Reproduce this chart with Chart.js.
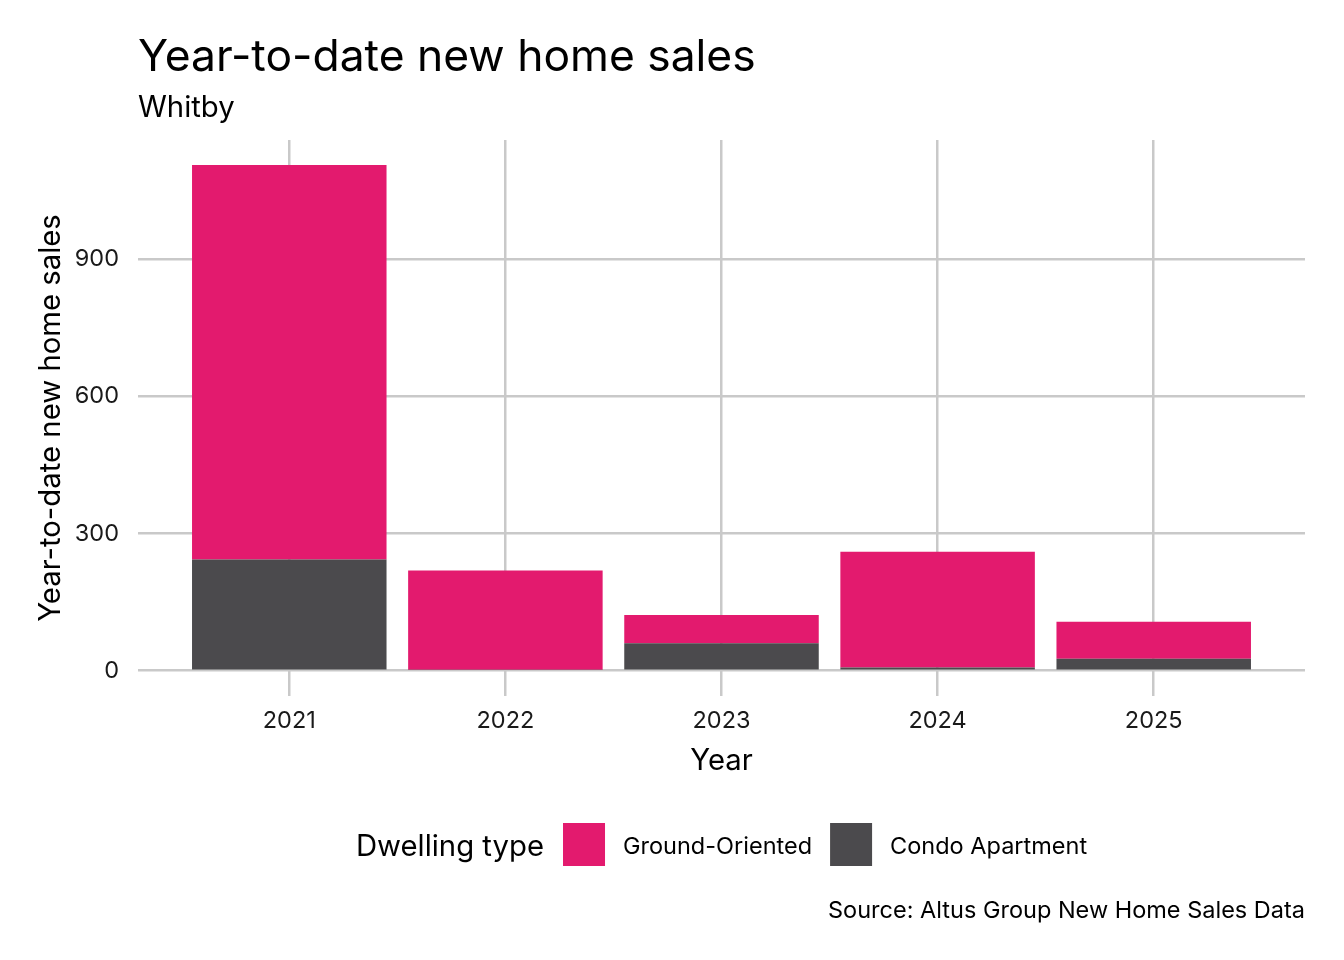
<!DOCTYPE html>
<html>
<head>
<meta charset="utf-8">
<script src="https://cdn.jsdelivr.net/npm/chart.js@4.4.1/dist/chart.umd.min.js"></script>
<style>
  html, body { margin: 0; padding: 0; background: #ffffff; }
  #wrap { width: 1344px; height: 960px; position: relative; }
</style>
</head>
<body>
<div id="wrap"><canvas id="c" width="1344" height="960"></canvas></div>
<script>
// ---- Data ----
const years = ["2021", "2022", "2023", "2024", "2025"];
const condoApartment = [243, 2, 60, 7, 26];
const groundOriented = [863, 217, 62, 253, 81];
const yTicks = [0, 300, 600, 900];
const seriesNames = ["Condo Apartment", "Ground-Oriented"];
const seriesColors = ["#4B4A4D", "#E31A6E"];

const titleText = "Year-to-date new home sales";
const subtitleText = "Whitby";
const legendTitle = "Dwelling type";
const captionText = "Source: Altus Group New Home Sales Data";
const FONT = "Inter, 'Noto Sans', sans-serif";

const toPoints = arr => arr.map((v, i) => ({ x: i + 1, y: v }));

const annotationsPlugin = {
  id: 'annotations',
  afterDraw(chart) {
    const ctx = chart.ctx;
    const area = chart.chartArea;
    ctx.save();
    ctx.fillStyle = '#000000';
    ctx.textBaseline = 'alphabetic';
    // Title & subtitle
    ctx.textAlign = 'left';
    ctx.font = `44.4px ${FONT}`;
    ctx.fillText(titleText, area.left, 71);
    ctx.font = `29.3px ${FONT}`;
    ctx.fillText(subtitleText, area.left, 117);

    // Legend (reverse order: Ground-Oriented first)
    const order = [1, 0];
    const boxW = 42, boxH = 43, gapTitle = 19, gapBoxText = 18, gapItem = 18;
    ctx.font = `29.3px ${FONT}`;
    const tW = ctx.measureText(legendTitle).width;
    ctx.font = `23.5px ${FONT}`;
    const itemW = order.map(i => ctx.measureText(seriesNames[i]).width);
    let total = tW + gapTitle;
    itemW.forEach((w, k) => { total += boxW + gapBoxText + w + (k < itemW.length - 1 ? gapItem : 0); });
    let x = (area.left + area.right) / 2 - total / 2;
    const cy = 844.5;
    ctx.font = `29.3px ${FONT}`;
    ctx.fillStyle = '#000000';
    ctx.fillText(legendTitle, x, 855.5);
    x += tW + gapTitle;
    order.forEach((i, k) => {
      ctx.fillStyle = seriesColors[i];
      ctx.fillRect(x, cy - boxH / 2, boxW, boxH);
      x += boxW + gapBoxText;
      ctx.fillStyle = '#000000';
      ctx.font = `23.5px ${FONT}`;
      ctx.fillText(seriesNames[i], x, 853.5);
      x += itemW[k] + gapItem;
    });

    // Caption
    ctx.textAlign = 'right';
    ctx.font = `23.5px ${FONT}`;
    ctx.fillText(captionText, area.right, 917.5);
    ctx.restore();
  }
};

new Chart(document.getElementById('c'), {
  type: 'bar',
  data: {
    datasets: [
      { label: seriesNames[0], data: toPoints(condoApartment), backgroundColor: seriesColors[0], borderWidth: 0 },
      { label: seriesNames[1], data: toPoints(groundOriented), backgroundColor: seriesColors[1], borderWidth: 0 }
    ]
  },
  options: {
    responsive: false,
    animation: false,
    events: [],
    layout: { padding: { left: 0, top: 140, right: 39, bottom: 164 } },
    datasets: { bar: { barPercentage: 0.9, categoryPercentage: 1.0 } },
    plugins: { legend: { display: false }, tooltip: { enabled: false }, title: { display: false } },
    scales: {
      x: {
        type: 'linear',
        stacked: true,
        offset: false,
        min: 0.3,
        max: 5.7,
        afterBuildTicks: s => { s.ticks = years.map((y, i) => ({ value: i + 1 })); },
        afterFit: s => { s.height = 100; },
        ticks: {
          callback: v => years[v - 1],
          font: { family: FONT, size: 23.5 },
          color: '#1a1a1a',
          padding: 11,
          maxRotation: 0,
          autoSkip: false
        },
        grid: { color: '#c9c9c9', lineWidth: 2.5, drawTicks: false, offset: false },
        border: { display: false },
        title: { display: true, text: 'Year', font: { family: FONT, size: 29.3 }, color: '#000000', padding: { top: 0, bottom: 17.5 } }
      },
      y: {
        stacked: true,
        min: -55.3,
        max: 1160.6,
        afterBuildTicks: s => { s.ticks = yTicks.map(v => ({ value: v })); },
        afterFit: s => { s.width = 138; },
        ticks: {
          font: { family: FONT, size: 23.5 },
          color: '#1a1a1a',
          padding: 19
        },
        grid: { color: '#c9c9c9', lineWidth: 2.5, drawTicks: false },
        border: { display: false },
        title: { display: true, text: 'Year-to-date new home sales', font: { family: FONT, size: 29.3 }, color: '#000000', padding: { top: 34, bottom: 0 } }
      }
    }
  },
  plugins: [annotationsPlugin]
});
</script>
</body>
</html>
